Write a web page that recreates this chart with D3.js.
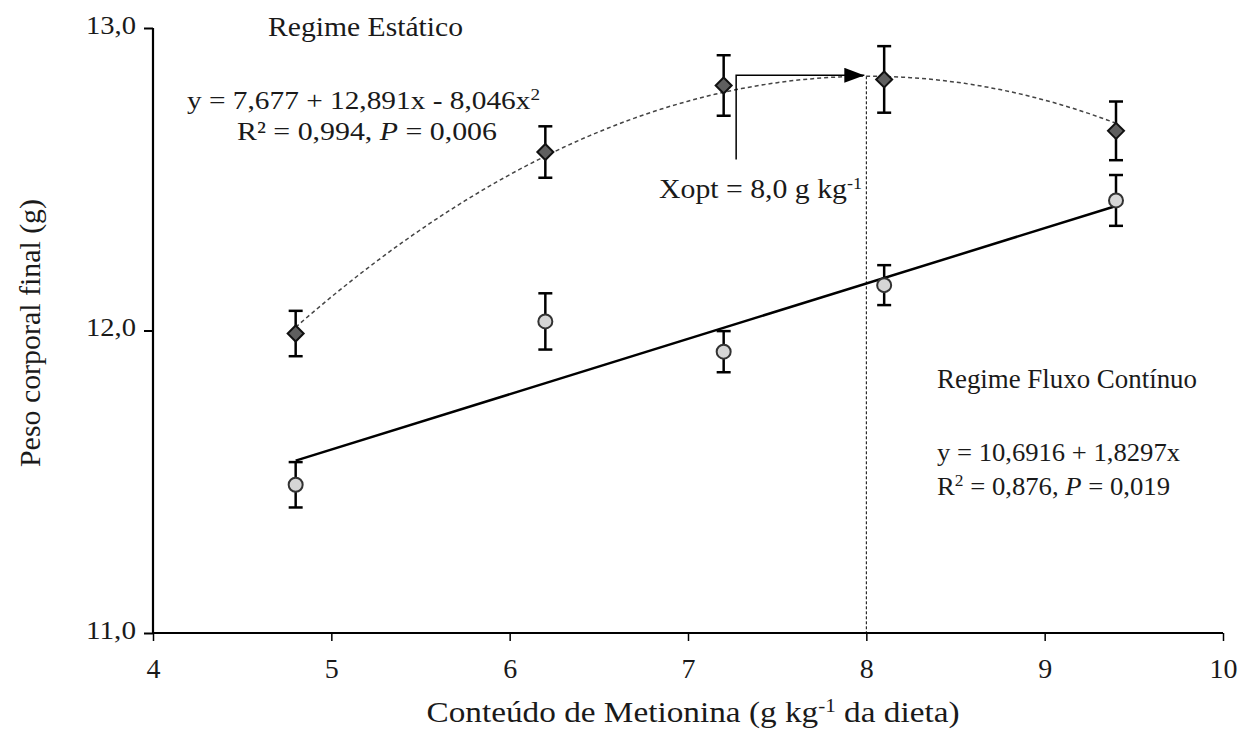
<!DOCTYPE html>
<html>
<head>
<meta charset="utf-8">
<script src="https://d3js.org/d3.v7.min.js"></script>
<style>
  body { margin: 0; background: #fff; }
  svg text { font-family: "Liberation Serif", "Times New Roman", Times, serif !important; fill: #1a1a1a; }
</style>
</head>
<body>
<svg width="1239" height="729"></svg>
<script>
// data
const doses = [4.8, 6.2, 7.2, 8.1, 9.4];
const estatico = [11.99, 12.59, 12.81, 12.83, 12.66];
const estaticoErr = [0.075, 0.085, 0.10, 0.11, 0.097];
const fluxo = [11.49, 12.03, 11.93, 12.15, 12.43];
const fluxoErr = [0.075, 0.093, 0.068, 0.066, 0.084];
const quadCoef = [7.677, 12.891, -8.046];   // x in %
const linCoef = [10.6916, 1.8297];
const xTicks = [4, 5, 6, 7, 8, 9, 10];
const yTicks = [11, 12, 13];
const xopt = 8.0;

const svg = d3.select("svg");
const x = d3.scaleLinear().domain([4, 10]).range([153, 1223]);
const y = d3.scaleLinear().domain([11, 13]).range([633, 28]);

const quad = v => quadCoef[0] + quadCoef[1] * (v / 10) + quadCoef[2] * (v / 10) * (v / 10);
const lin = v => linCoef[0] + linCoef[1] * (v / 10);

// y axis
const yAxis = svg.append("g")
  .attr("transform", "translate(153,0)")
  .call(d3.axisLeft(y).tickValues(yTicks).tickSize(9).tickFormat(d => d3.format(".1f")(d).replace(".", ",")));
yAxis.select(".domain").attr("stroke", "#000").attr("stroke-width", 2.2).attr("d", "M0,28V633");
yAxis.selectAll(".tick line").attr("stroke", "#000").attr("stroke-width", 2);
yAxis.selectAll(".tick text")
  .attr("x", -17).attr("dy", "0.2em").style("font-size", "26px")
  .attr("textLength", 50).attr("lengthAdjust", "spacingAndGlyphs");

// x axis
const xAxis = svg.append("g")
  .attr("transform", "translate(0,633)")
  .call(d3.axisBottom(x).tickValues(xTicks).tickSize(8).tickFormat(d3.format("d")));
xAxis.select(".domain").attr("stroke", "#000").attr("stroke-width", 2.2).attr("d", "M153,0H1223");
xAxis.selectAll(".tick line").attr("stroke", "#000").attr("stroke-width", 1.5);
xAxis.selectAll(".tick text").attr("y", 25).style("font-size", "28px");

// axis titles
const xt = svg.append("text").attr("x", 693).attr("y", 722).attr("text-anchor", "middle")
  .attr("font-size", 30).attr("textLength", 533).attr("lengthAdjust", "spacingAndGlyphs");
xt.append("tspan").text("Conteúdo de Metionina (g kg");
xt.append("tspan").attr("dy", -10).attr("font-size", 19).text("-1");
xt.append("tspan").attr("dy", 10).text(" da dieta)");

svg.append("text").attr("transform", "translate(40,333) rotate(-90)").attr("text-anchor", "middle")
  .attr("font-size", 30).attr("textLength", 268).attr("lengthAdjust", "spacingAndGlyphs")
  .text("Peso corporal final (g)");

// dotted vertical at Xopt
svg.append("line")
  .attr("x1", x(xopt)).attr("x2", x(xopt)).attr("y1", y(quad(xopt))).attr("y2", y(11))
  .attr("stroke", "#000").attr("stroke-width", 1).attr("stroke-dasharray", "3,2");

// fitted curves
const qx = d3.range(4.8, 9.4001, 0.05);
svg.append("path")
  .datum(qx)
  .attr("fill", "none").attr("stroke", "#444").attr("stroke-width", 1.5).attr("stroke-dasharray", "4,3")
  .attr("d", d3.line().x(d => x(d)).y(d => y(quad(d))));

svg.append("line")
  .attr("x1", x(4.8)).attr("y1", y(lin(4.8))).attr("x2", x(9.4)).attr("y2", y(lin(9.4)))
  .attr("stroke", "#000").attr("stroke-width", 2.5);

// arrow to optimum
svg.append("defs").append("marker")
  .attr("id", "ah").attr("viewBox", "0 0 10 10").attr("refX", 10).attr("refY", 5)
  .attr("markerWidth", 20).attr("markerHeight", 15).attr("markerUnits", "userSpaceOnUse")
  .attr("orient", "auto").attr("preserveAspectRatio", "none")
  .append("path").attr("d", "M0,0L10,5L0,10Z").attr("fill", "#000");
svg.append("path")
  .attr("d", `M${x(7.27)},${y(12.565)}V${y(quad(xopt)) - 1}H${x(xopt) - 2}`)
  .attr("fill", "none").attr("stroke", "#000").attr("stroke-width", 1.5)
  .attr("marker-end", "url(#ah)");

// error bars
function errorBars(vals, errs) {
  const g = svg.append("g").attr("stroke", "#000").attr("stroke-width", 2.5);
  doses.forEach((d, i) => {
    const cx = x(d), top = y(vals[i] + errs[i]), bot = y(vals[i] - errs[i]);
    g.append("line").attr("x1", cx).attr("x2", cx).attr("y1", top).attr("y2", bot);
    g.append("line").attr("x1", cx - 7).attr("x2", cx + 7).attr("y1", top).attr("y2", top);
    g.append("line").attr("x1", cx - 7).attr("x2", cx + 7).attr("y1", bot).attr("y2", bot);
  });
}
errorBars(estatico, estaticoErr);
errorBars(fluxo, fluxoErr);

// markers
svg.append("g").selectAll("path")
  .data(doses.map((d, i) => [d, estatico[i]]))
  .join("path")
  .attr("transform", d => `translate(${x(d[0])},${y(d[1])})`)
  .attr("d", "M0,-8L8,0L0,8L-8,0Z")
  .attr("fill", "#5f5f5f").attr("stroke", "#111").attr("stroke-width", 2);

svg.append("g").selectAll("circle")
  .data(doses.map((d, i) => [d, fluxo[i]]))
  .join("circle")
  .attr("cx", d => x(d[0])).attr("cy", d => y(d[1])).attr("r", 7)
  .attr("fill", "#d6d6d6").attr("stroke", "#333").attr("stroke-width", 2);

// annotations
function label(tx, ty, w, parts, fs) {
  const t = svg.append("text").attr("x", tx).attr("y", ty).attr("font-size", fs || 28)
    .attr("textLength", w).attr("lengthAdjust", "spacingAndGlyphs");
  parts.forEach(p => {
    const s = t.append("tspan").text(p.t);
    if (p.sup) s.attr("dy", -9).attr("font-size", 17);
    if (p.down) s.attr("dy", 9);
    if (p.i) s.attr("font-style", "italic");
  });
  return t;
}
label(268, 36, 195, [{ t: "Regime Estático" }]);
label(187, 109, 353, [{ t: "y = 7,677 + 12,891x - 8,046x" }, { t: "2", sup: true }], 26);
label(237, 140, 260, [{ t: "R² = 0,994, " }, { t: "P", i: true }, { t: " = 0,006" }], 26);
label(659, 198, 203, [{ t: "Xopt = 8,0 g kg" }, { t: "-1", sup: true }]);
label(937, 388, 260, [{ t: "Regime Fluxo Contínuo" }]);
label(937, 461, 243, [{ t: "y = 10,6916 + 1,8297x" }], 26);
label(937, 495, 233, [{ t: "R" }, { t: "2", sup: true }, { t: " = 0,876, ", down: true }, { t: "P", i: true }, { t: " = 0,019" }], 26);
</script>
</body>
</html>
